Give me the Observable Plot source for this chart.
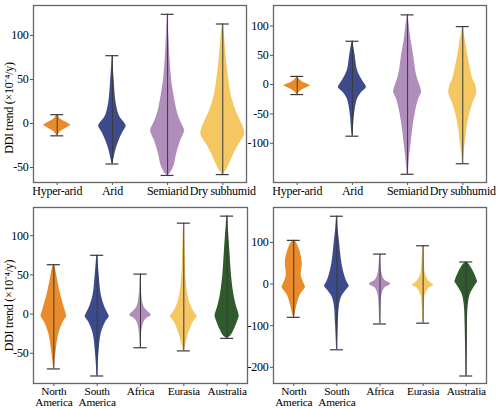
<!DOCTYPE html>
<html>
<head>
<meta charset="utf-8">
<script src="https://cdn.jsdelivr.net/npm/d3@7"></script>
<script src="https://cdn.jsdelivr.net/npm/@observablehq/plot@0.6"></script>
<style>
  html, body { margin: 0; padding: 0; background: #fff; }
  #wrap { position: relative; width: 500px; height: 408px; overflow: hidden; }
  #wrap svg { position: absolute; overflow: visible; }
</style>
</head>
<body>
<div id="wrap"></div>
<script>
// ---------- data ----------
const aridityCats = ["Hyper-arid", "Arid", "Semiarid", "Dry subhumid"];
const continentCats = ["North\nAmerica", "South\nAmerica", "Africa", "Eurasia", "Australia"];
const aridityColors = ["#E98B2A", "#3D4B8A", "#B08DBA", "#F4C762"];
const continentColors = ["#E98B2A", "#3D4B8A", "#B08DBA", "#F4C762", "#2F5A2B"];

// profiles: [value, relative density] from min to max
const tlHyper = [[-14,0.3],[-11,2],[-8,5],[-5,9.5],[-2,13.3],[0,11],[3,6],[6,2.5],[10,0.3]];
const tlArid = [[-46,0.4],[-40,1.5],[-30,3.5],[-20,6.5],[-10,10.5],[-3,13.8],[0,12.5],[5,9],[10,6.5],[25,3.5],[50,1.7],[65,0.8],[77,0.3]];
const tlSemi = [[-59,0.5],[-55,3.5],[-48,6.5],[-35,9],[-20,13],[-8,17],[0,14],[10,10.5],[25,7.5],[50,4],[75,2.3],[100,1.2],[124,0.3]];
const tlDry = [[-58,0.5],[-52,4],[-45,7],[-35,11],[-25,15.5],[-12,22],[0,19],[10,15],[20,11.5],[35,8],[50,6],[75,3.5],[100,1.7],[113,0.4]];

const trHyper = [[-17,0.3],[-13,2],[-9,5],[-5,10],[-2,13.3],[1,10],[5,5],[9,2],[14,0.3]];
const trArid = [[-88,0.3],[-75,1],[-50,2.2],[-25,5],[-15,8.5],[-5,14],[0,12.7],[10,9],[25,5],[50,2.7],[65,1.3],[74,0.3]];
const trSemi = [[-153,0.4],[-125,1.8],[-100,3.5],[-75,5.2],[-50,7.5],[-25,11],[-13,14],[0,12],[10,10],[25,8],[50,6],[75,3.5],[100,1.7],[119,0.3]];
const trDry = [[-135,0.3],[-120,1],[-100,2.4],[-75,4.2],[-50,7],[-30,10.5],[-15,14],[0,12.7],[10,10],[25,8],[50,5],[75,2.7],[90,1],[99,0.3]];

const blNA = [[-70,0.3],[-60,1],[-50,2],[-25,5],[-10,9.5],[-3,12.7],[0,12.3],[10,10],[25,6.8],[40,4.2],[50,2.8],[60,1.2],[63,0.3]];
const blSA = [[-79,0.3],[-65,0.8],[-50,1.7],[-25,4],[-10,8.5],[-3,12],[0,11],[10,7.3],[25,4],[50,2],[65,1],[75,0.3]];
const blAF = [[-43,0.3],[-30,0.8],[-20,1.5],[-10,3.5],[-5,6.8],[-2,10.7],[0,10],[5,6],[10,3.3],[25,1.2],[40,0.6],[51,0.3]];
const blEU = [[-47,0.3],[-40,1.7],[-25,4.8],[-10,9.5],[-3,13.3],[0,11.7],[10,7.3],[25,4],[50,2],[75,1.3],[100,0.7],[116,0.3]];
const blAU = [[-31,0.4],[-28,3.5],[-20,7],[-10,10.2],[-3,12],[0,11.7],[10,9.3],[25,6.7],[50,4.3],[75,3],[100,1.7],[115,0.8],[125,0.3]];

const brNA = [[-80,0.3],[-75,1],[-50,3.3],[-25,6.8],[-8,11.7],[0,10.5],[15,8],[25,7.5],[50,8.5],[75,6.7],[90,4.5],[100,2.5],[105,0.5]];
const brSA = [[-158,0.3],[-150,0.4],[-100,1.3],[-50,2.7],[-30,5],[-15,9.3],[-5,12.3],[0,11.3],[10,9.3],[25,7.3],[50,5],[75,3.7],[100,2.7],[125,1.5],[150,0.7],[163,0.3]];
const brAF = [[-96,0.3],[-75,0.6],[-50,1],[-25,2],[-10,4.7],[0,10.7],[10,4.7],[25,2],[50,0.8],[72,0.3]];
const brEU = [[-94,0.3],[-75,0.6],[-50,1],[-25,2.3],[-10,6],[-3,10.7],[0,9.3],[10,5],[25,2.3],[50,1.3],[75,0.7],[92,0.3]];
const brAU = [[-221,0.3],[-200,0.4],[-150,0.7],[-100,1.1],[-50,2],[-25,4],[-10,7.3],[0,10],[5,11.3],[10,10.8],[25,8.3],[40,5],[50,1.8],[53,0.3]];

const tlTicks = [-50, 0, 50, 100];
const trTicks = [-100, -50, 0, 50, 100];
const blTicks = [-50, 0, 50, 100];
const brTicks = [-200, -100, 0, 100];

const yLabel = "DDI trend (×10⁻⁴/y)";

// ---------- drawing ----------
function panel({cats, colors, profiles, yDomain, yTicks, xPad, pxPerUnit, capHalf, showLabel, labelDy, xFont, box}) {
  const k = 1 / pxPerUnit;            // density units → x units
  const areaData = [];
  const stats = [];
  profiles.forEach((prof, i) => {
    prof.forEach(([v, d]) => areaData.push({i, y: v, x1: i - d * k, x2: i + d * k}));
    const vals = prof.map(p => p[0]);
    stats.push({i, min: d3.min(vals), max: d3.max(vals)});
  });
  const capData = stats.flatMap(s => [{i: s.i, y: s.min}, {i: s.i, y: s.max}]);
  const n = cats.length;
  const marks = [
    Plot.areaX(areaData, {y: "y", x1: "x1", x2: "x2", z: "i", fill: d => colors[d.i], curve: "catmull-rom"}),
    Plot.ruleX(stats, {x: "i", y1: "min", y2: "max", stroke: "#3a3a3a", strokeWidth: 1}),
    Plot.ruleY(capData, {y: "y", x1: d => d.i - capHalf * k, x2: d => d.i + capHalf * k, stroke: "#3a3a3a", strokeWidth: 1.2}),
    Plot.axisX({ticks: d3.range(n), tickFormat: i => cats[i], tickSize: 3, tickPadding: 0.5,
                lineHeight: 1, fontSize: xFont, stroke: "#555", fill: "#000", label: null}),
    Plot.axisY({ticks: yTicks, tickFormat: d => String(d), tickSize: 3, tickPadding: 2, stroke: "#555", fill: "#000", label: null}),
    Plot.frame({stroke: "#666", strokeWidth: 1.3})
  ];
  if (showLabel) {
    marks.push(Plot.text([yLabel], {frameAnchor: "left", rotate: -90, dx: -24, dy: labelDy,
      text: d => d, fill: "#000", textAnchor: "middle", lineAnchor: "middle"}));
  }
  const svg = Plot.plot({
    width: box.w, height: box.h,
    marginLeft: box.ml, marginRight: box.mr, marginTop: box.mt, marginBottom: box.mb,
    style: {fontFamily: "'Liberation Serif', 'Times New Roman', serif", fontSize: "12px", letterSpacing: "-0.25px",
            color: "#000", background: "transparent"},
    x: {domain: [-xPad, n - 1 + xPad]},
    y: {domain: yDomain},
    marks
  });
  svg.style.left = box.x + "px";
  svg.style.top = box.y + "px";
  document.getElementById("wrap").appendChild(svg);
}

panel({cats: aridityCats, colors: aridityColors, profiles: [tlHyper, tlArid, tlSemi, tlDry],
  yDomain: [-67, 134], yTicks: tlTicks, xPad: 0.43, pxPerUnit: 55.3, capHalf: 6.5, showLabel: true, labelDy: 14, xFont: 12,
  box: {x: 0, y: 0, w: 250, h: 204, ml: 33, mr: 4, mt: 5, mb: 22}});
panel({cats: aridityCats, colors: aridityColors, profiles: [trHyper, trArid, trSemi, trDry],
  yDomain: [-167, 135], yTicks: trTicks, xPad: 0.43, pxPerUnit: 55.3, capHalf: 6.5, showLabel: false, xFont: 12,
  box: {x: 250, y: 0, w: 250, h: 204, ml: 23, mr: 14, mt: 5, mb: 22}});
panel({cats: continentCats, colors: continentColors, profiles: [blNA, blSA, blAF, blEU, blAU],
  yDomain: [-88.6, 136], yTicks: blTicks, xPad: 0.47, pxPerUnit: 43.2, capHalf: 6.5, showLabel: true, labelDy: 10, xFont: 11.3,
  box: {x: 0, y: 204, w: 250, h: 204, ml: 33, mr: 3, mt: 3, mb: 25}});
panel({cats: continentCats, colors: continentColors, profiles: [brNA, brSA, brAF, brEU, brAU],
  yDomain: [-239, 184], yTicks: brTicks, xPad: 0.47, pxPerUnit: 43.2, capHalf: 6.5, showLabel: false, xFont: 11.3,
  box: {x: 250, y: 204, w: 250, h: 204, ml: 23, mr: 14, mt: 3, mb: 25}});
</script>
</body>
</html>
